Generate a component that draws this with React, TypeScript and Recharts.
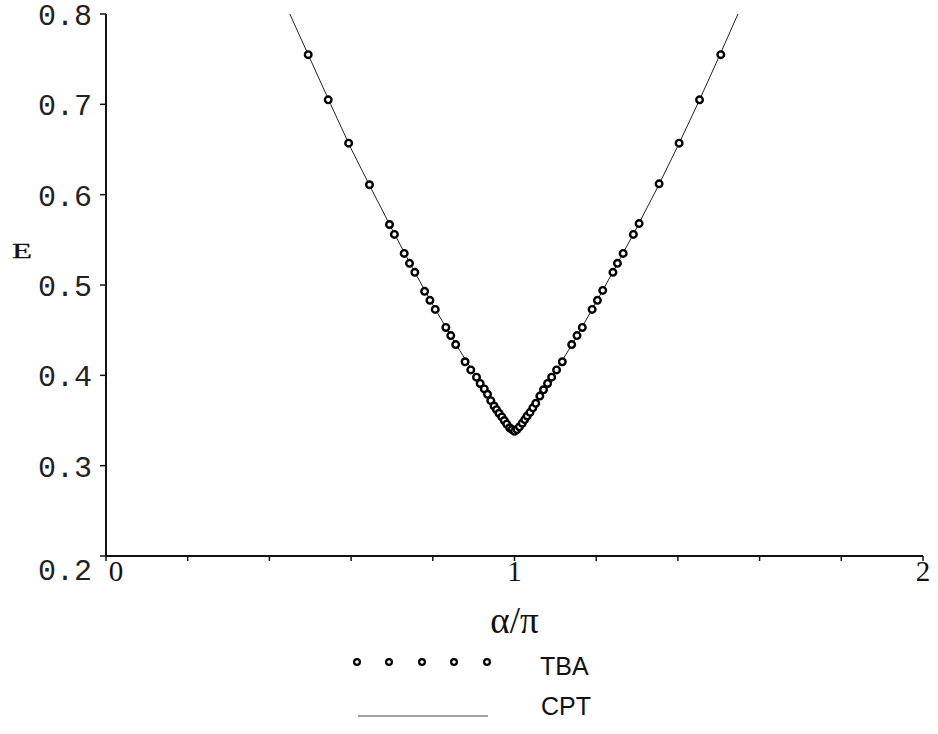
import React from "react"
import { ComposedChart, Line, Scatter, XAxis, YAxis } from "recharts"

// TBA points
const tbaX = [
	0.495, 0.544, 0.594, 0.645, 0.694, 0.706, 0.73, 0.743, 0.756, 0.78, 0.793, 0.806, 0.832, 0.844, 0.856,
	0.879, 0.893, 0.907, 0.916, 0.926, 0.934, 0.942, 0.95, 0.956, 0.962, 0.969, 0.975, 0.981, 0.988, 0.994, 1.0,
	1.006, 1.012, 1.019, 1.025, 1.031, 1.038, 1.045, 1.052, 1.062, 1.071, 1.081, 1.091, 1.103, 1.117,
	1.14, 1.153, 1.166, 1.19, 1.203, 1.216, 1.241, 1.252, 1.266, 1.291, 1.305, 1.354, 1.403, 1.453, 1.505,
]
const tbaE = [
	0.755, 0.705, 0.657, 0.611, 0.567, 0.556, 0.535, 0.524, 0.514, 0.493, 0.483, 0.473, 0.453, 0.444, 0.434,
	0.415, 0.406, 0.398, 0.391, 0.385, 0.379, 0.372, 0.366, 0.362, 0.358, 0.354, 0.35, 0.346, 0.342, 0.34, 0.338,
	0.34, 0.343, 0.347, 0.351, 0.355, 0.359, 0.364, 0.369, 0.377, 0.384, 0.391, 0.398, 0.406, 0.415,
	0.434, 0.444, 0.453, 0.473, 0.483, 0.494, 0.514, 0.524, 0.535, 0.556, 0.568, 0.612, 0.657, 0.705, 0.755,
]

// CPT curve
const cptX = [0.45, 0.5, 0.55, 0.6, 0.65, 0.7, 0.75, 0.8, 0.85, 0.9, 0.95, 1.0, 1.05, 1.1, 1.15, 1.2, 1.25, 1.3, 1.35, 1.4, 1.45, 1.5, 1.547]
const cptE = [0.8, 0.75, 0.7, 0.651, 0.606, 0.562, 0.519, 0.478, 0.439, 0.403, 0.368, 0.337, 0.369, 0.404, 0.441, 0.481, 0.522, 0.564, 0.608, 0.654, 0.702, 0.752, 0.8]

const xTicks = [0, 0.2, 0.4, 0.6, 0.8, 1, 1.2, 1.4, 1.6, 1.8, 2]
const xTickLabels: Record<number, string> = { 0: "0", 1: "1", 2: "2" }
const yTicks = [0.2, 0.3, 0.4, 0.5, 0.6, 0.7, 0.8]

const tba = tbaX.map((x, i) => ({ x, E: tbaE[i] }))
const cpt = cptX.map((x, i) => ({ x, E: cptE[i] }))

const XTick = ({ x, y, payload }: any) => {
	const label = xTickLabels[payload.value] ?? ""
	if (!label) return null
	return (
		<text x={x + (payload.value === 0 ? 10 : 0)} y={y + 18} textAnchor="middle" fontFamily="Liberation Serif" fontSize={29} fill="#111">
			{label}
		</text>
	)
}

const YTick = ({ x, y, payload }: any) => {
	const v = payload.value
	return (
		<text x={x - 6} y={y + (v === 0.2 ? 24 : 11)} textAnchor="end" fontFamily="Liberation Mono" fontSize={30} fill="#222">
			{v.toFixed(1)}
		</text>
	)
}

const Ring = ({ cx, cy }: any) => <circle cx={cx} cy={cy} r={3.3} fill="#fff" stroke="#000" strokeWidth={2.4} />

const ELabel = ({ viewBox }: any) => (
	<text x={viewBox.x + 16} y={258} textAnchor="middle" fontFamily="Liberation Serif" fontSize={21} textLength={20} lengthAdjust="spacingAndGlyphs" fill="#111" stroke="#111" strokeWidth={0.3}>
		E
	</text>
)

const AlphaLabel = ({ viewBox }: any) => (
	<text x={viewBox.x + viewBox.width / 2} y={viewBox.y + 77} textAnchor="middle" fontFamily="Liberation Serif" fontSize={37} fill="#111">
		α/π
	</text>
)

const legendRings = [357, 389, 422, 454, 487]

export default function App() {
	return (
		<div style={{ position: "absolute", left: 0, top: 0, width: 938, height: 734, background: "#fff" }}>
			<ComposedChart width={938} height={734} margin={{ top: 14, right: 15, bottom: 138, left: 6 }}>
				<XAxis
					dataKey="x"
					type="number"
					domain={[0, 2]}
					ticks={xTicks}
					interval={0}
					tick={<XTick />}
					tickSize={5}
					tickLine={{ stroke: "#111", strokeWidth: 1.5 }}
					axisLine={{ stroke: "#111", strokeWidth: 2 }}
					height={40}
					label={<AlphaLabel />}
				/>
				<YAxis
					dataKey="E"
					type="number"
					domain={[0.2, 0.8]}
					ticks={yTicks}
					interval={0}
					tick={<YTick />}
					tickSize={6}
					tickLine={{ stroke: "#111", strokeWidth: 1.5 }}
					axisLine={{ stroke: "#111", strokeWidth: 2 }}
					width={100}
					label={<ELabel />}
				/>
				<Line data={cpt} dataKey="E" type="linear" stroke="#222" strokeWidth={1} dot={false} isAnimationActive={false} />
				<Scatter data={tba} shape={<Ring />} isAnimationActive={false} />
			</ComposedChart>
			<svg width={938} height={734} style={{ position: "absolute", left: 0, top: 0, pointerEvents: "none" }}>
				{legendRings.map((cx) => (
					<circle key={cx} cx={cx} cy={662} r={2.9} fill="#fff" stroke="#000" strokeWidth={2.2} />
				))}
				<text x={540} y={675} fontFamily="Liberation Sans" fontSize={25} fill="#111">
					TBA
				</text>
				<line x1={358} x2={488} y1={716} y2={716} stroke="#444" strokeWidth={1} />
				<text x={541} y={715} fontFamily="Liberation Sans" fontSize={25} fill="#111">
					CPT
				</text>
			</svg>
		</div>
	)
}
